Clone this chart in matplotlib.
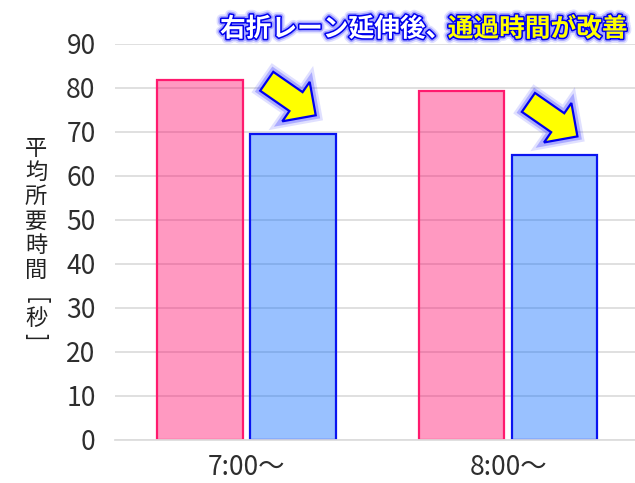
import numpy as np
import matplotlib
matplotlib.use("Agg")
import matplotlib.pyplot as plt
import matplotlib.patheffects as pe
from matplotlib.patches import Polygon

plt.rcParams['font.family'] = ['Noto Sans CJK JP', 'DejaVu Sans']

# Data
categories = ["7:00～", "8:00～"]
before = [81.9, 79.4]   # 延伸前
after = [69.6, 64.8]    # 延伸後
y_ticks = [0, 10, 20, 30, 40, 50, 60, 70, 80, 90]
y_title = ["平", "均", "所", "要", "時", "間", "[", "秒", "]"]

W, H = 635, 483
fig = plt.figure(figsize=(W / 100, H / 100), dpi=100)
ax = fig.add_axes([115 / W, 1 - 440 / H, 1 - 115 / W, (440 - 44) / H])

x = np.arange(len(categories))
bw = 0.327
off = 0.178
ax.bar(x - off, before, width=bw, facecolor=(1.0, 0.0, 0.4, 0.4),
       edgecolor="#FF1A6E", linewidth=1.6, zorder=2)
ax.bar(x + off, after, width=bw, facecolor=(0.0, 0.4, 1.0, 0.4),
       edgecolor="#0A14F0", linewidth=1.6, zorder=2)

ax.set_xlim(-0.502, 1.485)
ax.set_ylim(0, 90)
ax.set_yticks(y_ticks)
ax.set_xticks(x)
ax.set_xticklabels(categories)
ax.yaxis.grid(True, color="#DDDDDD", linewidth=1.3, zorder=0)
ax.set_axisbelow(True)
for s in ["top", "right", "left"]:
    ax.spines[s].set_visible(False)
ax.spines["bottom"].set_color("#DDDDDD")
ax.spines["bottom"].set_linewidth(1.3)
ax.tick_params(axis="y", length=0, pad=14, labelsize=19, labelcolor="#2E2E2E")
ax.tick_params(axis="x", length=0, pad=10, labelsize=19, labelcolor="#2E2E2E")

# Vertical axis title, one character per row; brackets turned for vertical text
row0, step = 148, 24.4
for i, ch in enumerate(y_title):
    yc = row0 + i * step
    rot = 0
    if ch == "[":
        rot, yc = -90, yc + 6
    elif ch == "]":
        rot, yc = -90, yc - 6
    fig.text(36 / W, 1 - yc / H, ch, ha="center", va="center",
             fontsize=16, color="#222222", rotation=rot)

# Headline with glowing outline
glow = [pe.Stroke(linewidth=7, foreground=(0.2, 0.2, 1.0, 0.15)),
        pe.Stroke(linewidth=4.5, foreground=(0.2, 0.2, 1.0, 0.35)),
        pe.Stroke(linewidth=2.2, foreground="#0000EE"),
        pe.Normal()]
ty = 1 - 29 / H
fig.text(220 / W, ty, "右折レーン延伸後、", ha="left", va="center",
         fontsize=18.5, fontweight="bold", color="#FFFFFF", path_effects=glow)
fig.text(628 / W, ty, "通過時間が改善", ha="right", va="center",
         fontsize=18.5, fontweight="bold", color="#FFFF00", path_effects=glow)


def arrow_poly(tip, back=(-49, 34), shaft=23, head_w=48, head_l=24):
    tip = np.asarray(tip, float)
    tail = tip + np.asarray(back, float)
    u = (tip - tail) / np.hypot(*(tip - tail))
    n = np.array([-u[1], u[0]])
    base = tip - u * head_l
    return [tail + n * shaft / 2, base + n * shaft / 2, base + n * head_w / 2,
            tip, base - n * head_w / 2, base - n * shaft / 2,
            tail - n * shaft / 2]


arrow_fx = [pe.Stroke(linewidth=9, foreground=(0.2, 0.2, 1.0, 0.15)),
            pe.Stroke(linewidth=5.5, foreground=(0.2, 0.2, 1.0, 0.3)),
            pe.Normal()]
for i, v in enumerate(after):
    tip_disp = ax.transData.transform((x[i] + off + 0.087, v + 4.2))
    poly = Polygon(arrow_poly(tip_disp), closed=True, facecolor="#FFFF00",
                   edgecolor="#0000EE", linewidth=1.6, transform=None,
                   zorder=5, path_effects=arrow_fx)
    fig.patches.append(poly)

fig.savefig("out.png", dpi=100)
